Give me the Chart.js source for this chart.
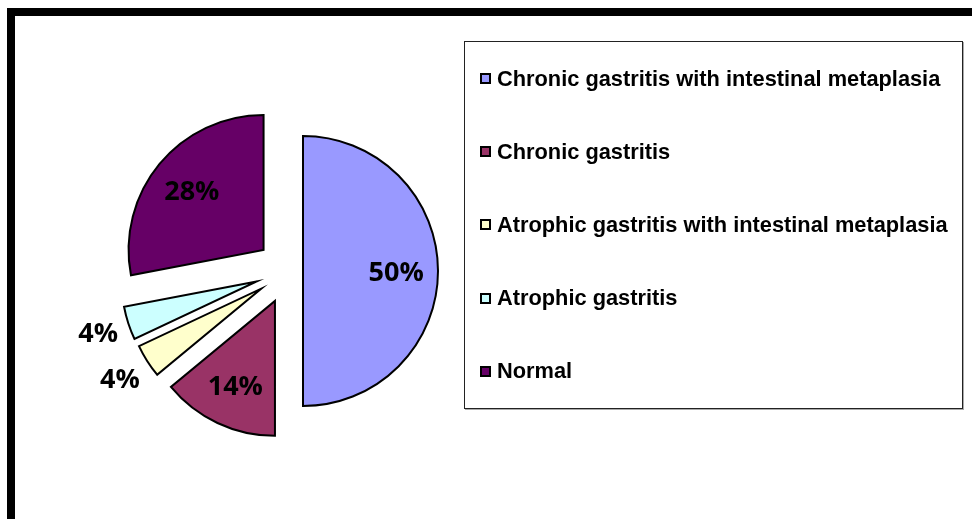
<!DOCTYPE html>
<html>
<head>
<meta charset="utf-8">
<script src="https://cdn.jsdelivr.net/npm/chart.js@4"></script>
<style>
  html, body { margin: 0; padding: 0; background: #fff; overflow: hidden; }
  #wrap { position: relative; width: 972px; height: 519px; }
  #frame { position: absolute; left: 7px; top: 8px; width: 2000px; height: 2000px;
           border-top: 8px solid #000; border-left: 8px solid #000; }
  #chart { position: absolute; left: 0; top: 0; }
  #legend { position: absolute; left: 464px; top: 41px; width: 497px; height: 366px;
            border: 1px solid #222; box-shadow: 1px 1px 0 #aaa; background: #fff;
            font: bold 21.8px "Liberation Sans", Arial, sans-serif; color: #000; }
  .row { height: 73.2px; display: flex; align-items: center; padding-left: 15px; white-space: nowrap; }
  .swatch { width: 11px; height: 11px; border: 2px solid #000; box-sizing: border-box; margin-right: 6px; flex: none; }
</style>
</head>
<body>
<div id="wrap">
  <div id="frame"></div>
  <canvas id="chart" width="972" height="519"></canvas>
  <div id="legend"></div>
</div>
<script>
const labels = [
    'Chronic gastritis with intestinal metaplasia',
    'Chronic gastritis',
    'Atrophic gastritis with intestinal metaplasia',
    'Atrophic gastritis',
    'Normal'
];
const percents = [50, 14, 4, 4, 28];
const colors = ['#9999FF', '#993366', '#FFFFCC', '#CCFFFF', '#660066'];
// how far each slice is pulled out of the pie (px)
const pullOut = [14, 33, 33, 34, 33];

// draw the slices ourselves so they are moved out without growing
const explode = {
    id: 'explode',
    beforeDatasetDraw(chart, args) {
        const ctx = chart.ctx;
        args.meta.data.forEach((arc, i) => {
            const mid = (arc.startAngle + arc.endAngle) / 2;
            ctx.save();
            ctx.translate(Math.cos(mid) * pullOut[i], Math.sin(mid) * pullOut[i]);
            arc.draw(ctx);
            ctx.restore();
        });
        return false;
    }
};

// percentage labels, small slices get theirs outside
const pctLabels = {
    id: 'pctLabels',
    afterDatasetsDraw(chart) {
        const ctx = chart.ctx;
        const meta = chart.getDatasetMeta(0);
        const total = percents.reduce((a, b) => a + b, 0);
        ctx.save();
        ctx.font = 'bold 27px "Open Sans"';
        ctx.fillStyle = '#000';
        ctx.textAlign = 'center';
        ctx.textBaseline = 'alphabetic';
        meta.data.forEach((arc, i) => {
            const mid = (arc.startAngle + arc.endAngle) / 2;
            const cx = Math.cos(mid), sy = Math.sin(mid);
            const ox = arc.x + cx * pullOut[i], oy = arc.y + sy * pullOut[i];
            const share = percents[i] / total;
            const txt = Math.round(share * 100) + '%';
            let r;
            if (share >= 0.1) {
                r = arc.outerRadius * 0.69;
            } else {
                const w = ctx.measureText(txt).width;
                r = arc.outerRadius + 9 + Math.abs(cx) * w / 2 + Math.abs(sy) * 12;
            }
            // digits are ~19px tall, put their middle on the point
            ctx.fillText(txt, ox + cx * r, oy + sy * r + 9.5);
        });
        ctx.restore();
    }
};

const config = {
    type: 'pie',
    data: {
        labels: labels,
        datasets: [{
            data: percents,
            backgroundColor: colors,
            borderColor: '#000',
            borderWidth: 2,
            borderJoinStyle: 'miter',
            radius: 135
        }]
    },
    options: {
        responsive: false,
        animation: false,
        events: [],
        layout: { padding: { left: 0, right: 394, top: 23, bottom: 0 } },
        plugins: {
            legend: { display: false },
            tooltip: { enabled: false }
        }
    },
    plugins: [explode, pctLabels]
};

const chart = new Chart(document.getElementById('chart').getContext('2d'), config);

// legend box on the right
const legendBox = document.getElementById('legend');
labels.forEach((name, i) => {
    const row = document.createElement('div');
    row.className = 'row';
    const sw = document.createElement('span');
    sw.className = 'swatch';
    sw.style.background = colors[i];
    const txt = document.createElement('span');
    txt.textContent = name;
    row.appendChild(sw);
    row.appendChild(txt);
    legendBox.appendChild(row);
});
</script>
</body>
</html>
